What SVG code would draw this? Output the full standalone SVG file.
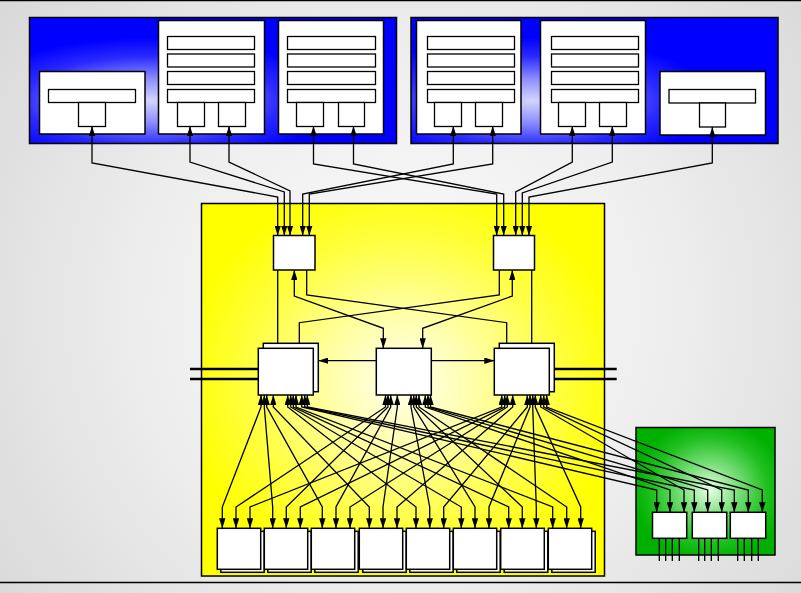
<svg xmlns="http://www.w3.org/2000/svg" width="801" height="593" viewBox="0 0 801 593">
<defs>
<radialGradient id="bg" gradientUnits="userSpaceOnUse" cx="410" cy="310" r="520">
<stop offset="0" stop-color="#fbfbfb"/><stop offset="0.5" stop-color="#eeeeee"/><stop offset="1" stop-color="#d8d8d8"/>
</radialGradient>
<radialGradient id="blue" cx="0.33" cy="0.66" r="0.5">
<stop offset="0" stop-color="#d4d4ff"/><stop offset="0.35" stop-color="#8c8cff"/><stop offset="0.7" stop-color="#2a2aff"/><stop offset="1" stop-color="#0000ff"/>
</radialGradient>
<radialGradient id="yel" cx="0.5" cy="0.48" r="0.55">
<stop offset="0" stop-color="#fffff0"/><stop offset="0.3" stop-color="#ffffb0"/><stop offset="0.7" stop-color="#ffff40"/><stop offset="1" stop-color="#ffff00"/>
</radialGradient>
<radialGradient id="grn" cx="0.53" cy="0.49" r="0.55">
<stop offset="0" stop-color="#e8ffe8"/><stop offset="0.35" stop-color="#80e080"/><stop offset="0.75" stop-color="#20c020"/><stop offset="1" stop-color="#00b000"/>
</radialGradient>
<marker id="ah" viewBox="0 0 10 6.4" refX="10" refY="3.2" markerWidth="10" markerHeight="6.4" markerUnits="userSpaceOnUse" orient="auto-start-reverse">
<path d="M0,0 L10,3.2 L0,6.4 z" fill="#000"/>
</marker>
</defs>
<style>
.box{fill:#fff;stroke:#000;stroke-width:1.5}
.bar{fill:#fff;stroke:#000;stroke-width:1.3}
.pan{stroke:#000;stroke-width:1.5}
.c{fill:none;stroke:#000;stroke-width:1.3}
.a{fill:none;stroke:#000;stroke-width:1.3;marker-start:url(#ah);marker-end:url(#ah)}
.a1{fill:none;stroke:#000;stroke-width:1.3;marker-end:url(#ah)}
.thick{fill:none;stroke:#000;stroke-width:2.6}
</style>
<rect x="0" y="0" width="801" height="593" fill="url(#bg)"/>
<line x1="0" y1="0.5" x2="801" y2="0.5" stroke="#000" stroke-width="1.5"/>
<line x1="0" y1="582.5" x2="801" y2="582.5" stroke="#000" stroke-width="1.5"/>

<g id="panel-left">
<rect class="pan" x="29.5" y="17.5" width="367" height="126" fill="url(#blue)"/>
</g>
<g id="panel-right">
<rect class="pan" x="411" y="17.5" width="367" height="126" fill="url(#blue)"/>
</g>
<g id="panel-center">
<rect class="pan" x="201.5" y="203.5" width="403" height="372.5" fill="url(#yel)"/>
</g>
<g id="panel-green">
<rect class="pan" x="636" y="427.5" width="139" height="127.5" fill="url(#grn)"/>
</g>

<g id="nodeA">
<rect class="box" x="39.5" y="71.5" width="105.5" height="62.5"/>
<rect class="bar" x="48.5" y="89.5" width="87" height="13"/>
<rect class="bar" x="78.5" y="102.5" width="27" height="24"/>
</g>
<g id="nodeB">
<rect class="box" x="158.5" y="20.5" width="106" height="113.5"/>
<rect class="bar" x="167.5" y="36.5" width="87" height="13"/>
<rect class="bar" x="167.5" y="54" width="87" height="13"/>
<rect class="bar" x="167.5" y="71.5" width="87" height="13"/>
<rect class="bar" x="167.5" y="89.5" width="87" height="13"/>
<rect class="bar" x="177.5" y="102.5" width="27" height="24"/>
<rect class="bar" x="218.5" y="102.5" width="27" height="24"/>
</g>
<g id="nodeC">
<rect class="box" x="278.5" y="20.5" width="105" height="113.5"/>
<rect class="bar" x="287.5" y="36.5" width="88" height="13"/>
<rect class="bar" x="287.5" y="54" width="88" height="13"/>
<rect class="bar" x="287.5" y="71.5" width="88" height="13"/>
<rect class="bar" x="287.5" y="89.5" width="88" height="13"/>
<rect class="bar" x="296.5" y="102.5" width="27" height="24"/>
<rect class="bar" x="338.5" y="102.5" width="26" height="24"/>
</g>
<g id="nodeD">
<rect class="box" x="416.5" y="20.5" width="104.5" height="113.5"/>
<rect class="bar" x="427.5" y="36.5" width="87" height="13"/>
<rect class="bar" x="427.5" y="54" width="87" height="13"/>
<rect class="bar" x="427.5" y="71.5" width="87" height="13"/>
<rect class="bar" x="427.5" y="89.5" width="87" height="13"/>
<rect class="bar" x="434.5" y="102.5" width="27" height="24"/>
<rect class="bar" x="475.5" y="102.5" width="27" height="24"/>
</g>
<g id="nodeE">
<rect class="box" x="540.5" y="20.5" width="105" height="113.5"/>
<rect class="bar" x="551.5" y="36.5" width="87" height="13"/>
<rect class="bar" x="551.5" y="54" width="87" height="13"/>
<rect class="bar" x="551.5" y="71.5" width="87" height="13"/>
<rect class="bar" x="551.5" y="89.5" width="87" height="13"/>
<rect class="bar" x="558.5" y="102.5" width="27" height="24"/>
<rect class="bar" x="599.5" y="102.5" width="27" height="24"/>
</g>
<g id="nodeF">
<rect class="box" x="660" y="71.5" width="105.5" height="63.5"/>
<rect class="bar" x="669" y="89.5" width="86.5" height="13.5"/>
<rect class="bar" x="699.5" y="103" width="26" height="24"/>
</g>

<g id="nodeTL"><rect class="box" x="273.5" y="235.5" width="41.5" height="34.5"/></g>
<g id="nodeTR"><rect class="box" x="493.5" y="235.5" width="41" height="34.5"/></g>
<g id="nodeML">
<rect class="box" x="263.3" y="343.3" width="55" height="48.4"/>
<rect class="box" x="258.3" y="348.3" width="55" height="46.7"/>
</g>
<g id="nodeMC"><rect class="box" x="376.3" y="348.3" width="55" height="46.7"/></g>
<g id="nodeMR">
<rect class="box" x="499.3" y="343.3" width="55" height="48.4"/>
<rect class="box" x="494.3" y="348.3" width="55" height="46.7"/>
</g>

<g id="bottom1"><rect class="box" x="220.8" y="531.3" width="43.4" height="41"/><rect class="box" x="217.3" y="528.3" width="43.4" height="41"/></g>
<g id="bottom2"><rect class="box" x="267.8" y="531.3" width="43.4" height="41"/><rect class="box" x="264.3" y="528.3" width="43.4" height="41"/></g>
<g id="bottom3"><rect class="box" x="314.8" y="531.3" width="43.4" height="41"/><rect class="box" x="311.3" y="528.3" width="43.4" height="41"/></g>
<g id="bottom4"><rect class="box" x="362.8" y="531.3" width="43.4" height="41"/><rect class="box" x="359.3" y="528.3" width="43.4" height="41"/></g>
<g id="bottom5"><rect class="box" x="409.8" y="531.3" width="43.4" height="41"/><rect class="box" x="406.3" y="528.3" width="43.4" height="41"/></g>
<g id="bottom6"><rect class="box" x="456.8" y="531.3" width="43.4" height="41"/><rect class="box" x="453.3" y="528.3" width="43.4" height="41"/></g>
<g id="bottom7"><rect class="box" x="504.2" y="531.3" width="43.6" height="41"/><rect class="box" x="500.7" y="528.3" width="43.6" height="41"/></g>
<g id="bottom8"><rect class="box" x="551.8" y="531.3" width="43.4" height="41"/><rect class="box" x="548.3" y="528.3" width="43.4" height="41"/></g>

<g id="green1"><rect class="box" x="652.5" y="512.3" width="34.2" height="26"/></g>
<g id="green2"><rect class="box" x="692.3" y="512.3" width="34.4" height="26"/></g>
<g id="green3"><rect class="box" x="730.3" y="512.3" width="35.4" height="26"/></g>

<g id="connectors">
<path class="a" d="M92,126 V163 L277.7,197 V235.5"/>
<path class="a" d="M190,126 V162 L284.3,192 V235.5"/>
<path class="a" d="M229,126 V162 L290,191 V235.5"/>
<path class="a" d="M453.3,126 V164 L302.7,194 V235.5"/>
<path class="a" d="M492.7,126 V164 L309.3,194 V235.5"/>
<path class="a" d="M313.5,126 V164 L496.7,194 V235.5"/>
<path class="a" d="M353.5,126 V164 L503.7,194 V235.5"/>
<path class="a" d="M572.3,126 V162 L515.7,192 V235.5"/>
<path class="a" d="M612.3,126 V162 L522.3,193 V235.5"/>
<path class="a" d="M712.3,127 V163 L529,197 V235.5"/>
<path class="c" d="M277.7,270 V343.3"/>
<path class="c" d="M531.7,270 V343.3"/>
<path class="a" d="M294.3,270 V296 L383.3,328.3 V348.3"/>
<path class="a" d="M512.3,270 V296 L422.7,328.3 V348.3"/>
<path class="c" d="M306.7,270 V295 L506.7,322.7 V343.3"/>
<path class="c" d="M499.3,270 V295 L299.3,322.7 V343.3"/>
<path class="a1" d="M376.3,360.7 H318.3"/>
<path class="a1" d="M431.3,360.7 H494.3"/>
<path class="thick" d="M190,369 H258.3 M190,379 H258.3"/>
<path class="thick" d="M554.3,369 H616.7 M554.3,379 H616.7"/>
<path class="a" d="M261,395 V407 L222.3,507 V528.3"/>
<path class="a" d="M264.3,395 V407 L272.7,507 V528.3"/>
<path class="a" d="M266.7,395 V407 L322.3,507 V528.3"/>
<path class="a" d="M273.3,395 V407 L369.3,507 V528.3"/>
<path class="a" d="M287.7,395 V407 L416,507 V528.3"/>
<path class="a" d="M290.7,395 V407 L461.3,507 V528.3"/>
<path class="a" d="M293.3,395 V407 L508.7,507 V528.3"/>
<path class="a" d="M296,395 V407 L552.7,507 V528.3"/>
<path class="a" d="M301.7,395 V407 L656.7,490 V512.3"/>
<path class="a" d="M304.7,395 V407 L694.3,490 V512.3"/>
<path class="a" d="M307.3,395 V407 L734.3,490 V512.3"/>
<path class="a" d="M385.5,395 V407 L236,507 V528.3"/>
<path class="a" d="M388,395 V407 L286.3,507 V528.3"/>
<path class="a" d="M390.7,395 V407 L336,507 V528.3"/>
<path class="a" d="M397.3,395 V407 L383,507 V528.3"/>
<path class="a" d="M411,395 V407 L429.7,507 V528.3"/>
<path class="a" d="M413.7,395 V407 L475,507 V528.3"/>
<path class="a" d="M416.3,395 V407 L522.3,507 V528.3"/>
<path class="a" d="M419,395 V407 L566.7,507 V528.3"/>
<path class="a" d="M425.3,395 V407 L670,490 V512.3"/>
<path class="a" d="M428,395 V407 L707.7,490 V512.3"/>
<path class="a" d="M430.5,395 V407 L748.3,490 V512.3"/>
<path class="a" d="M501.7,395 V407 L250,507 V528.3"/>
<path class="a" d="M504.7,395 V407 L300.3,507 V528.3"/>
<path class="a" d="M507.3,395 V407 L350,507 V528.3"/>
<path class="a" d="M512.7,395 V407 L397,507 V528.3"/>
<path class="a" d="M527.3,395 V407 L443.7,507 V528.3"/>
<path class="a" d="M530,395 V407 L489,507 V528.3"/>
<path class="a" d="M532.7,395 V407 L536.3,507 V528.3"/>
<path class="a" d="M535.3,395 V407 L580.7,507 V528.3"/>
<path class="a" d="M540.7,395 V407 L684,490 V512.3"/>
<path class="a" d="M543.7,395 V407 L721.7,490 V512.3"/>
<path class="a" d="M546.7,395 V407 L762.3,490 V512.3"/>
<path class="c" d="M659.3,538.3 V561 M665.7,538.3 V561 M672.3,538.3 V561 M679.3,538.3 V561"/>
<path class="c" d="M698.7,538.3 V561 M704.7,538.3 V561 M711.3,538.3 V561 M718.3,538.3 V561"/>
<path class="c" d="M737.7,538.3 V561 M744.3,538.3 V561 M751.7,538.3 V561 M758.3,538.3 V561"/>
</g>
</svg>
